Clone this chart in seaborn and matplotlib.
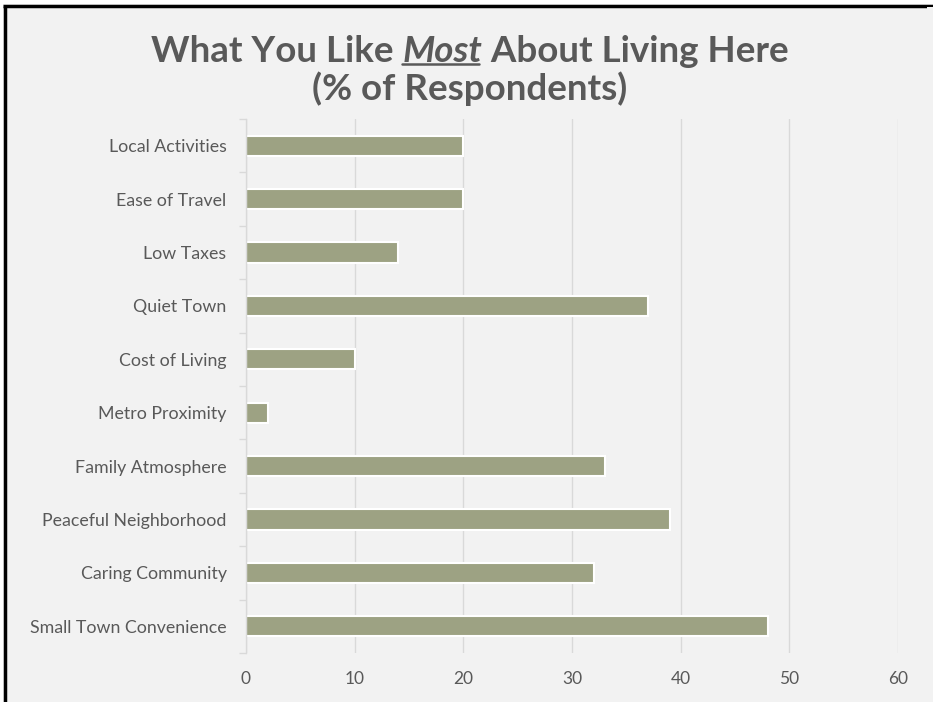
import seaborn as sns
import matplotlib.pyplot as plt
import matplotlib.patches as patches
import pandas as pd

sns.set_theme(style="whitegrid")
plt.rcParams['font.family'] = ['Lato', 'DejaVu Sans']

categories = ["Local Activities", "Ease of Travel", "Low Taxes", "Quiet Town",
              "Cost of Living", "Metro Proximity", "Family Atmosphere",
              "Peaceful Neighborhood", "Caring Community", "Small Town Convenience"]
percent = [20, 20, 14, 37, 10, 2, 33, 39, 32, 48]
xticks = [0, 10, 20, 30, 40, 50, 60]

df = pd.DataFrame({"Category": categories, "Percent": percent})

bg = "#f2f2f2"
grey_text = "#595959"
W, H = 933, 702
fig = plt.figure(figsize=(W / 100, H / 100), dpi=100, facecolor=bg, edgecolor=bg, linewidth=0)
# white strip outside the frame, then black frame lines on left and top only
fig.patches.append(patches.Rectangle((0, 0), 3 / W, 1, transform=fig.transFigure,
                                     facecolor="white", edgecolor="none", zorder=-1))
fig.patches.append(patches.Rectangle((0, 1 - 4 / H), 1, 4 / H, transform=fig.transFigure,
                                     facecolor="white", edgecolor="none", zorder=-1))
fig.add_artist(plt.Line2D([4.5 / W, 4.5 / W], [0, 1 - 5.5 / H], color="black",
                          linewidth=2.5, solid_capstyle="butt", transform=fig.transFigure))
fig.add_artist(plt.Line2D([3 / W, 1], [1 - 5.5 / H, 1 - 5.5 / H], color="black",
                          linewidth=2.5, solid_capstyle="butt", transform=fig.transFigure))
# keep the right edge plain panel colour
fig.add_artist(patches.Rectangle((1 - 6 / W, 0), 6 / W, 1 - 7 / H, transform=fig.transFigure,
                                 facecolor=bg, edgecolor="none", zorder=10))

ax = fig.add_axes([246 / W, 1 - 653 / H, (898 - 246) / W, (653 - 119) / H])
ax.set_facecolor(bg)

sns.barplot(data=df, y="Category", x="Percent", color="#9da283", width=0.375,
            edgecolor="white", linewidth=1.5, saturation=1, ax=ax)

ax.set_xlim(0, 60)
ax.set_xticks(xticks)
ax.set_xlabel("")
ax.set_ylabel("")
ax.grid(axis="x", color="#d9d9d9", linewidth=1)
ax.grid(axis="y", visible=False)
for s in ["top", "right", "bottom"]:
    ax.spines[s].set_visible(False)
ax.spines["left"].set_color("#d9d9d9")
ax.spines["left"].set_linewidth(1)
ax.set_ylim(len(categories) - 0.5, -0.5)
ax.set_yticks([i - 0.5 for i in range(len(categories) + 1)], minor=True)
ax.tick_params(axis="y", which="minor", length=5, color="#d9d9d9", width=1, left=True)
ax.tick_params(axis="y", which="major", length=0, pad=14, labelsize=12.8, labelcolor=grey_text)
ax.tick_params(axis="x", length=0, pad=13, labelsize=12.5, labelcolor=grey_text)

# title with italic underlined "Most"
tsize = 26.5
fig.canvas.draw()
r = fig.canvas.get_renderer()
parts = [("What You Like ", "normal"), ("Most", "italic"), (" About Living Here", "normal")]
texts = []
for s, st in parts:
    t = fig.text(0, 0, s, fontsize=tsize, fontweight="bold", style=st, color=grey_text,
                 va="baseline", ha="left")
    texts.append(t)
widths = [t.get_window_extent(r).width for t in texts]
total = sum(widths)
x0 = 470 - total / 2
y_base = H - 62
x = x0
for t, w in zip(texts, widths):
    t.set_position((x / W, y_base / H))
    if t.get_text() == "Most":
        fig.add_artist(plt.Line2D([x / W, (x + w - 3) / W], [(y_base - 2) / H] * 2,
                                  color=grey_text, linewidth=1.8, transform=fig.transFigure))
    x += w
fig.text(470 / W, (H - 100) / H, "(% of Respondents)", fontsize=tsize, fontweight="bold",
         color=grey_text, ha="center", va="baseline")

fig.savefig("out.png", dpi=100, facecolor=bg)
